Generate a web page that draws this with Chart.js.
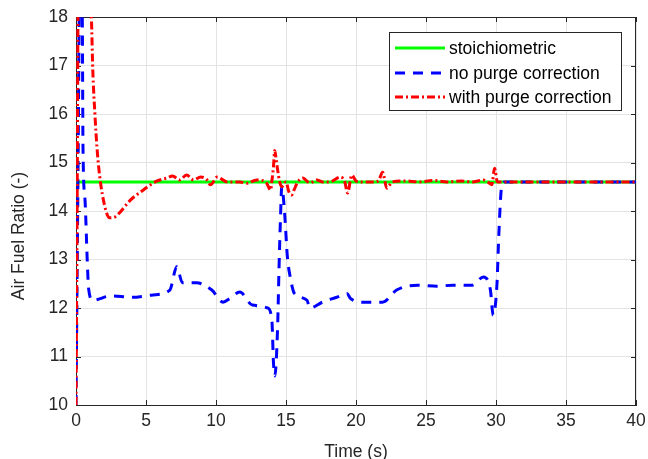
<!DOCTYPE html>
<html>
<head>
<meta charset="utf-8">
<script src="https://cdn.jsdelivr.net/npm/chart.js@4.4.1/dist/chart.umd.min.js"></script>
<style>
    html, body { margin: 0; padding: 0; background: #ffffff; }
    #wrap { width: 648px; height: 459px; }
</style>
</head>
<body>
<div id="wrap"><canvas id="afr-chart" width="648" height="459"></canvas></div>
<script>
// Air fuel ratio data
const seriesLabels = ['stoichiometric', 'no purge correction', 'with purge correction'];
const xTicks = [0, 5, 10, 15, 20, 25, 30, 35, 40];
const yTicks = [10, 11, 12, 13, 14, 15, 16, 17, 18];

const stoichTime = [0, 40];
const stoichAfr = [14.6, 14.6];

const noPurgeTime = [0, 0.15, 0.25, 0.35, 0.45, 0.5, 0.65, 0.8, 0.9, 1.2, 2.5, 4, 5.5, 6.7, 7.2, 7.6, 8.6, 9.7, 10.5, 11, 11.7, 12.6, 13.7, 14.0, 14.1, 14.2, 14.4, 14.5, 14.6, 14.7, 14.9, 15.1, 15.3, 15.6, 16.5, 16.7, 17.6, 18.7, 19.35, 19.6, 20.6, 21.9, 22.9, 24.4, 25.8, 26.9, 28.3, 29.1, 29.6, 29.8, 30.07, 30.2, 30.4, 30.6, 40];
const noPurgeAfr = [10, 15, 18.5, 19, 18, 15.3, 14.2, 13, 12.4, 12.16, 12.25, 12.22, 12.27, 12.37, 12.85, 12.52, 12.52, 12.37, 12.12, 12.2, 12.33, 12.06, 12.0, 11.7, 10.9, 10.6, 11.6, 12.8, 13.8, 14.5, 13.96, 13.05, 12.64, 12.3, 12.16, 12.0, 12.12, 12.23, 12.3, 12.2, 12.12, 12.12, 12.37, 12.47, 12.45, 12.47, 12.47, 12.64, 12.37, 11.85, 12.5, 13.5, 14.5, 14.6, 14.6];

const purgeTime = [0, 0.08, 0.15, 0.3, 0.6, 0.95, 1.1, 1.2, 1.35, 1.5, 1.7, 2.07, 2.4, 2.8, 3.1, 3.9, 4.6, 5.8, 6.5, 6.9, 7.4, 7.9, 8.4, 8.9, 9.3, 9.6, 10.1, 10.8, 11.7, 12.2, 12.9, 13.6, 13.9, 14.0, 14.1, 14.2, 14.3, 14.4, 14.55, 14.7, 15.0, 15.2, 15.4, 15.6, 15.8, 16.2, 16.7, 17.2, 17.6, 18.1, 18.9, 19.2, 19.4, 19.7, 20.0, 20.3, 21.2, 21.6, 21.9, 22.2, 22.6, 23.5, 24.5, 25.5, 26.5, 27.5, 28.3, 29.1, 29.5, 29.7, 29.9, 30.1, 40];
const purgeAfr = [10, 14, 18.5, 21, 21, 19, 18, 16.9, 16.0, 15.3, 14.7, 14.08, 13.86, 13.88, 13.96, 14.23, 14.39, 14.62, 14.68, 14.72, 14.64, 14.74, 14.64, 14.7, 14.66, 14.54, 14.7, 14.6, 14.6, 14.57, 14.64, 14.58, 14.43, 14.64, 14.9, 15.25, 15.05, 14.85, 14.6, 14.5, 14.6, 14.4, 14.33, 14.45, 14.58, 14.68, 14.58, 14.64, 14.6, 14.6, 14.7, 14.6, 14.37, 14.74, 14.62, 14.6, 14.6, 14.62, 14.8, 14.47, 14.6, 14.62, 14.6, 14.63, 14.6, 14.62, 14.6, 14.64, 14.58, 14.54, 14.88, 14.6, 14.6];

function toPoints(xs, ys) {
    return xs.map((x, i) => ({ x: x, y: ys[i] }));
}

const FONT = '"Liberation Sans", Arial, Helvetica, sans-serif';
const AXIS_COLOR = '#262626';

// box, inward ticks, axis titles and legend drawn like the matlab figure
const matlabFrame = {
    id: 'matlabFrame',
    beforeDatasetsDraw(chart) {
        const ctx = chart.ctx;
        const a = chart.chartArea;
        const xs = chart.scales.x;
        const ys = chart.scales.y;
        ctx.save();
        ctx.strokeStyle = AXIS_COLOR;
        ctx.lineWidth = 1;
        ctx.beginPath();
        ctx.moveTo(a.left, a.top + 0.5);
        ctx.lineTo(a.right, a.top + 0.5);
        ctx.moveTo(a.right - 0.5, a.top);
        ctx.lineTo(a.right - 0.5, a.bottom);
        xTicks.forEach(t => {
            const px = Math.round(xs.getPixelForValue(t)) + 0.5;
            ctx.moveTo(px, a.bottom);
            ctx.lineTo(px, a.bottom - 5);
            ctx.moveTo(px, a.top);
            ctx.lineTo(px, a.top + 5);
        });
        yTicks.forEach(t => {
            const py = Math.round(ys.getPixelForValue(t)) + 0.5;
            ctx.moveTo(a.left, py);
            ctx.lineTo(a.left + 5, py);
            ctx.moveTo(a.right, py);
            ctx.lineTo(a.right - 5, py);
        });
        ctx.stroke();
        ctx.restore();
    },
    afterDatasetsDraw(chart) {
        const ctx = chart.ctx;
        const a = chart.chartArea;
        ctx.save();
        ctx.fillStyle = AXIS_COLOR;
        ctx.font = '17.5px ' + FONT;
        ctx.textAlign = 'center';
        ctx.textBaseline = 'middle';
        ctx.fillText('Time (s)', (a.left + a.right) / 2, 452);
        ctx.translate(19, 236);
        ctx.rotate(-Math.PI / 2);
        ctx.fillText('Air Fuel Ratio (-)', 0, 0);
        ctx.restore();

        // legend
        const box = { left: 389.5, top: 32.5, right: 621.5, bottom: 110.5 };
        ctx.save();
        ctx.fillStyle = '#ffffff';
        ctx.fillRect(box.left, box.top, box.right - box.left, box.bottom - box.top);
        ctx.strokeStyle = AXIS_COLOR;
        ctx.lineWidth = 1;
        ctx.strokeRect(box.left, box.top, box.right - box.left, box.bottom - box.top);
        const rows = [48, 73, 97];
        chart.data.datasets.forEach((ds, i) => {
            ctx.strokeStyle = ds.borderColor;
            ctx.lineWidth = ds.borderWidth;
            ctx.setLineDash(ds.borderDash || []);
            ctx.beginPath();
            ctx.moveTo(395, rows[i]);
            ctx.lineTo(445, rows[i]);
            ctx.stroke();
            ctx.setLineDash([]);
            ctx.fillStyle = '#000000';
            ctx.font = '17.5px ' + FONT;
            ctx.textAlign = 'left';
            ctx.textBaseline = 'middle';
            ctx.fillText(ds.label, 449, rows[i] + 1);
        });
        ctx.restore();
    }
};

const ctx = document.getElementById('afr-chart');

new Chart(ctx, {
    type: 'line',
    data: {
        datasets: [
            {
                label: seriesLabels[0],
                data: toPoints(stoichTime, stoichAfr),
                borderColor: '#00ff00',
                borderWidth: 3,
                pointRadius: 0,
                order: 3
            },
            {
                label: seriesLabels[1],
                data: toPoints(noPurgeTime, noPurgeAfr),
                borderColor: '#0000ff',
                borderWidth: 3,
                borderDash: [10, 8],
                pointRadius: 0,
                cubicInterpolationMode: 'monotone',
                order: 2
            },
            {
                label: seriesLabels[2],
                data: toPoints(purgeTime, purgeAfr),
                borderColor: '#ff0000',
                borderWidth: 3,
                borderDash: [8, 3, 2, 3],
                pointRadius: 0,
                cubicInterpolationMode: 'monotone',
                order: 1
            }
        ]
    },
    options: {
        responsive: false,
        animation: false,
        events: [],
        layout: {
            padding: { left: 0, top: 17, right: 12, bottom: 0 }
        },
        scales: {
            x: {
                type: 'linear',
                min: 0,
                max: 40,
                afterBuildTicks: axis => { axis.ticks = xTicks.map(v => ({ value: v })); },
                afterFit: axis => {
                    axis.height = 54;
                    axis.paddingLeft = 0;
                    axis.paddingRight = 0;
                },
                ticks: {
                    color: AXIS_COLOR,
                    padding: 6,
                    maxRotation: 0,
                    font: { family: FONT, size: 17.5 }
                },
                grid: { color: '#e3e3e3', drawTicks: false },
                border: { color: AXIS_COLOR, width: 1 }
            },
            y: {
                min: 10,
                max: 18,
                afterBuildTicks: axis => { axis.ticks = yTicks.map(v => ({ value: v })); },
                afterFit: axis => {
                    axis.width = 76;
                    axis.paddingTop = 0;
                    axis.paddingBottom = 0;
                },
                ticks: {
                    color: AXIS_COLOR,
                    padding: 8,
                    font: { family: FONT, size: 17.5 }
                },
                grid: { color: '#e3e3e3', drawTicks: false },
                border: { color: AXIS_COLOR, width: 1 }
            }
        },
        plugins: {
            legend: { display: false },
            tooltip: { enabled: false }
        }
    },
    plugins: [matlabFrame]
});
</script>
</body>
</html>
